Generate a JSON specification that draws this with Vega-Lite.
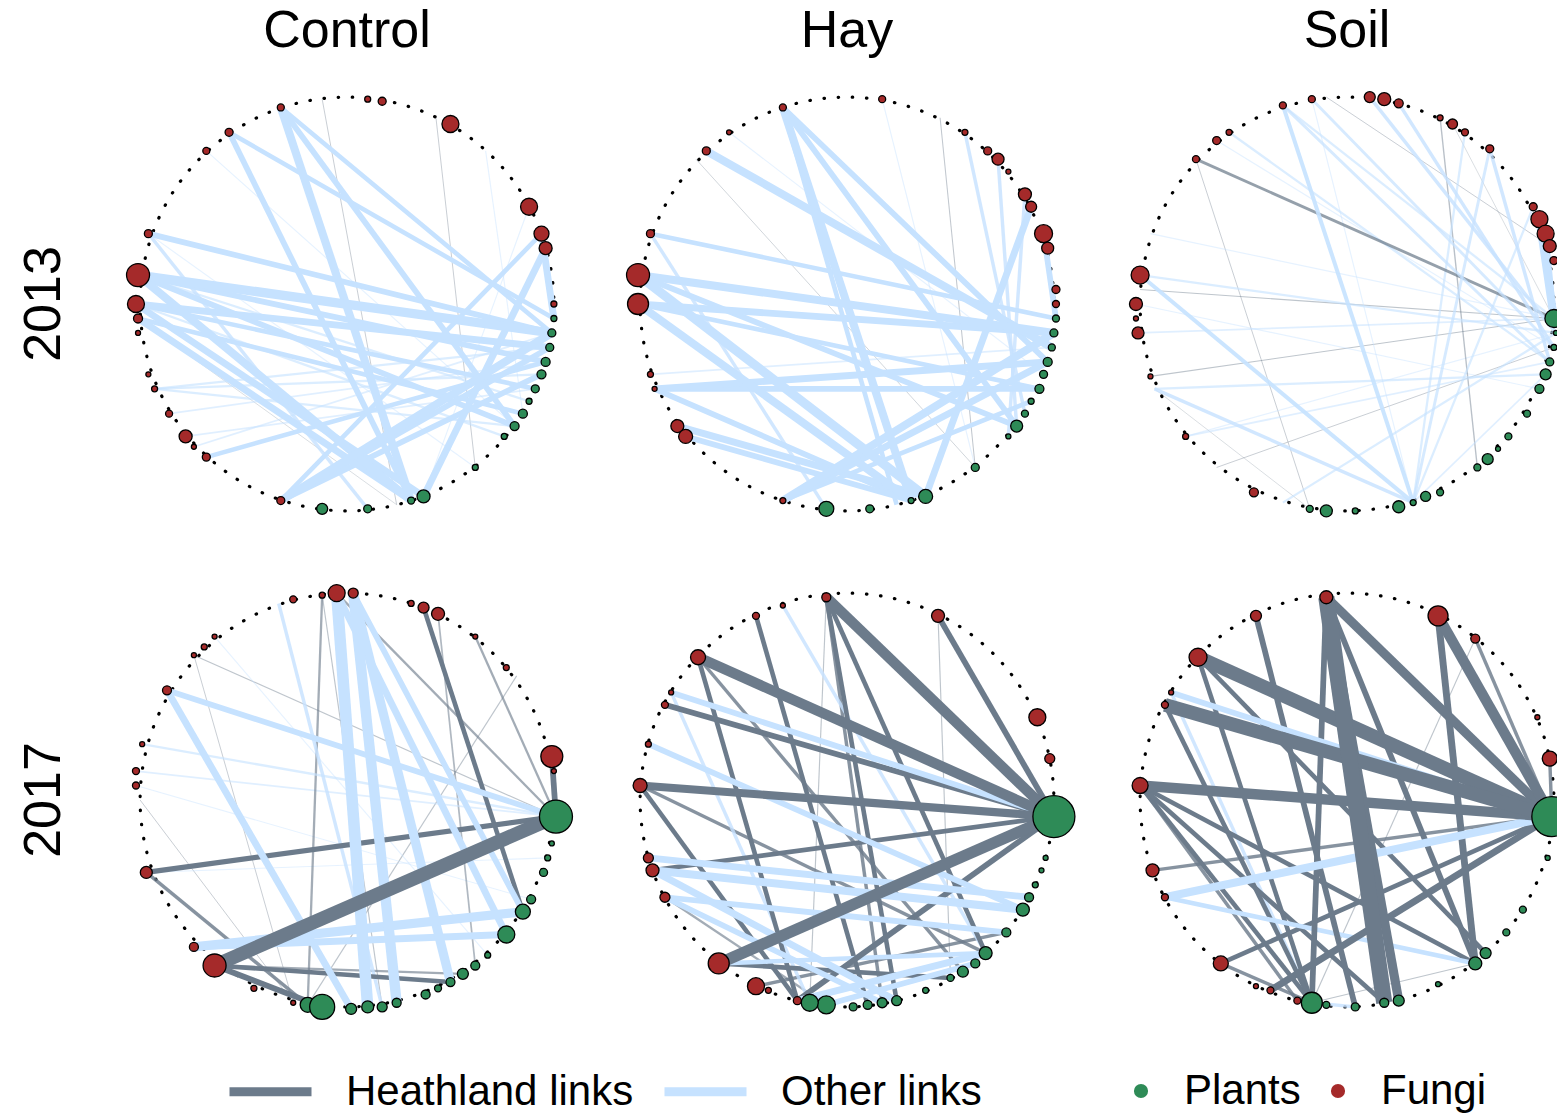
{
"$schema":"https://vega.github.io/schema/vega-lite/v6.json",
"padding":{"left":17,"top":5,"right":0,"bottom":0},
"datasets":{"all":[
{"k":"ring","c":"Control","r":"2013","x":0,"y":0},{"k":"ring","c":"Hay","r":"2013","x":0,"y":0},{"k":"ring","c":"Soil","r":"2013","x":0,"y":0},
{"k":"ring","c":"Control","r":"2017","x":0,"y":0},{"k":"ring","c":"Hay","r":"2017","x":0,"y":0},{"k":"ring","c":"Soil","r":"2017","x":0,"y":0},
{"k":"n","c":"Control","r":"2013","id":"a1","g":"Fungi","x":-0.32,"y":0.95,"d":7},
{"k":"n","c":"Control","r":"2013","id":"a2","g":"Fungi","x":-0.57,"y":0.83,"d":8},
{"k":"n","c":"Control","r":"2013","id":"a3","g":"Fungi","x":-0.68,"y":0.74,"d":7},
{"k":"n","c":"Control","r":"2013","id":"a4","g":"Fungi","x":0.10,"y":0.99,"d":6},
{"k":"n","c":"Control","r":"2013","id":"a5","g":"Fungi","x":0.17,"y":0.98,"d":8},
{"k":"n","c":"Control","r":"2013","id":"a6","g":"Fungi","x":0.50,"y":0.87,"d":17},
{"k":"n","c":"Control","r":"2013","id":"a7","g":"Fungi","x":0.88,"y":0.47,"d":17},
{"k":"n","c":"Control","r":"2013","id":"a8","g":"Fungi","x":0.94,"y":0.34,"d":15},
{"k":"n","c":"Control","r":"2013","id":"a9","g":"Fungi","x":0.96,"y":0.27,"d":13},
{"k":"n","c":"Control","r":"2013","id":"a10","g":"Fungi","x":1.0,"y":0.0,"d":6},
{"k":"n","c":"Control","r":"2013","id":"a11","g":"Fungi","x":-0.96,"y":0.34,"d":8},
{"k":"n","c":"Control","r":"2013","id":"a12","g":"Fungi","x":-1.01,"y":0.14,"d":23},
{"k":"n","c":"Control","r":"2013","id":"a13","g":"Fungi","x":-1.02,"y":0.0,"d":17},
{"k":"n","c":"Control","r":"2013","id":"a14","g":"Fungi","x":-1.01,"y":-0.07,"d":9},
{"k":"n","c":"Control","r":"2013","id":"a15","g":"Fungi","x":-1.01,"y":-0.14,"d":5},
{"k":"n","c":"Control","r":"2013","id":"a16","g":"Fungi","x":-0.96,"y":-0.34,"d":5},
{"k":"n","c":"Control","r":"2013","id":"a17","g":"Fungi","x":-0.93,"y":-0.41,"d":6},
{"k":"n","c":"Control","r":"2013","id":"a18","g":"Fungi","x":-0.86,"y":-0.53,"d":7},
{"k":"n","c":"Control","r":"2013","id":"a19","g":"Fungi","x":-0.78,"y":-0.64,"d":13},
{"k":"n","c":"Control","r":"2013","id":"a20","g":"Fungi","x":-0.74,"y":-0.69,"d":5},
{"k":"n","c":"Control","r":"2013","id":"a21","g":"Fungi","x":-0.68,"y":-0.74,"d":8},
{"k":"n","c":"Control","r":"2013","id":"a22","g":"Fungi","x":-0.32,"y":-0.95,"d":8},
{"k":"n","c":"Control","r":"2013","id":"a23","g":"Plants","x":1.0,"y":-0.07,"d":6},
{"k":"n","c":"Control","r":"2013","id":"a24","g":"Plants","x":0.99,"y":-0.14,"d":8},
{"k":"n","c":"Control","r":"2013","id":"a25","g":"Plants","x":0.98,"y":-0.21,"d":8},
{"k":"n","c":"Control","r":"2013","id":"a26","g":"Plants","x":0.96,"y":-0.28,"d":9},
{"k":"n","c":"Control","r":"2013","id":"a27","g":"Plants","x":0.94,"y":-0.34,"d":9},
{"k":"n","c":"Control","r":"2013","id":"a28","g":"Plants","x":0.91,"y":-0.41,"d":8},
{"k":"n","c":"Control","r":"2013","id":"a29","g":"Plants","x":0.88,"y":-0.47,"d":6},
{"k":"n","c":"Control","r":"2013","id":"a30","g":"Plants","x":0.85,"y":-0.53,"d":9},
{"k":"n","c":"Control","r":"2013","id":"a31","g":"Plants","x":0.81,"y":-0.59,"d":9},
{"k":"n","c":"Control","r":"2013","id":"a32","g":"Plants","x":0.76,"y":-0.64,"d":6},
{"k":"n","c":"Control","r":"2013","id":"a33","g":"Plants","x":0.62,"y":-0.79,"d":6},
{"k":"n","c":"Control","r":"2013","id":"a34","g":"Plants","x":0.37,"y":-0.93,"d":13},
{"k":"n","c":"Control","r":"2013","id":"a35","g":"Plants","x":0.31,"y":-0.95,"d":7},
{"k":"n","c":"Control","r":"2013","id":"a36","g":"Plants","x":0.10,"y":-0.99,"d":8},
{"k":"n","c":"Control","r":"2013","id":"a37","g":"Plants","x":-0.12,"y":-0.99,"d":11},
{"k":"n","c":"Control","r":"2013","id":"a38","g":"dot","x":-0.12,"y":0.99,"d":3},
{"k":"n","c":"Control","r":"2013","id":"a39","g":"dot","x":0.24,"y":-0.97,"d":3},
{"k":"n","c":"Control","r":"2013","id":"a40","g":"dot","x":0.43,"y":0.90,"d":3},
{"k":"n","c":"Control","r":"2013","id":"a42","g":"dot","x":0.67,"y":0.74,"d":3},
{"k":"n","c":"Hay","r":"2013","id":"b1","g":"Fungi","x":-0.31,"y":0.95,"d":7},
{"k":"n","c":"Hay","r":"2013","id":"b2","g":"Fungi","x":-0.68,"y":0.74,"d":8},
{"k":"n","c":"Hay","r":"2013","id":"b3","g":"Fungi","x":-0.57,"y":0.83,"d":5},
{"k":"n","c":"Hay","r":"2013","id":"b4","g":"Fungi","x":0.17,"y":0.99,"d":7},
{"k":"n","c":"Hay","r":"2013","id":"b5","g":"Fungi","x":0.57,"y":0.83,"d":6},
{"k":"n","c":"Hay","r":"2013","id":"b6","g":"Fungi","x":0.68,"y":0.74,"d":8},
{"k":"n","c":"Hay","r":"2013","id":"b7","g":"Fungi","x":0.73,"y":0.70,"d":12},
{"k":"n","c":"Hay","r":"2013","id":"b8","g":"Fungi","x":0.78,"y":0.64,"d":5},
{"k":"n","c":"Hay","r":"2013","id":"b9","g":"Fungi","x":0.86,"y":0.53,"d":13},
{"k":"n","c":"Hay","r":"2013","id":"b10","g":"Fungi","x":0.89,"y":0.47,"d":11},
{"k":"n","c":"Hay","r":"2013","id":"b11","g":"Fungi","x":0.95,"y":0.34,"d":18},
{"k":"n","c":"Hay","r":"2013","id":"b12","g":"Fungi","x":0.97,"y":0.27,"d":12},
{"k":"n","c":"Hay","r":"2013","id":"b13","g":"Fungi","x":1.01,"y":0.07,"d":8},
{"k":"n","c":"Hay","r":"2013","id":"b14","g":"Fungi","x":1.01,"y":0.0,"d":7},
{"k":"n","c":"Hay","r":"2013","id":"b15","g":"Fungi","x":-0.95,"y":0.34,"d":8},
{"k":"n","c":"Hay","r":"2013","id":"b16","g":"Fungi","x":-1.01,"y":0.14,"d":23},
{"k":"n","c":"Hay","r":"2013","id":"b17","g":"Fungi","x":-1.01,"y":0.0,"d":21},
{"k":"n","c":"Hay","r":"2013","id":"b18","g":"Fungi","x":-0.95,"y":-0.34,"d":6},
{"k":"n","c":"Hay","r":"2013","id":"b19","g":"Fungi","x":-0.93,"y":-0.41,"d":5},
{"k":"n","c":"Hay","r":"2013","id":"b20","g":"Fungi","x":-0.82,"y":-0.59,"d":13},
{"k":"n","c":"Hay","r":"2013","id":"b21","g":"Fungi","x":-0.78,"y":-0.64,"d":14},
{"k":"n","c":"Hay","r":"2013","id":"b22","g":"Fungi","x":-0.31,"y":-0.95,"d":6},
{"k":"n","c":"Hay","r":"2013","id":"b23","g":"Plants","x":1.01,"y":-0.07,"d":7},
{"k":"n","c":"Hay","r":"2013","id":"b24","g":"Plants","x":1.0,"y":-0.14,"d":8},
{"k":"n","c":"Hay","r":"2013","id":"b25","g":"Plants","x":0.99,"y":-0.21,"d":7},
{"k":"n","c":"Hay","r":"2013","id":"b26","g":"Plants","x":0.97,"y":-0.28,"d":9},
{"k":"n","c":"Hay","r":"2013","id":"b27","g":"Plants","x":0.95,"y":-0.34,"d":8},
{"k":"n","c":"Hay","r":"2013","id":"b28","g":"Plants","x":0.93,"y":-0.41,"d":9},
{"k":"n","c":"Hay","r":"2013","id":"b29","g":"Plants","x":0.89,"y":-0.47,"d":6},
{"k":"n","c":"Hay","r":"2013","id":"b30","g":"Plants","x":0.86,"y":-0.53,"d":7},
{"k":"n","c":"Hay","r":"2013","id":"b31","g":"Plants","x":0.82,"y":-0.59,"d":12},
{"k":"n","c":"Hay","r":"2013","id":"b32","g":"Plants","x":0.78,"y":-0.64,"d":5},
{"k":"n","c":"Hay","r":"2013","id":"b33","g":"Plants","x":0.62,"y":-0.79,"d":8},
{"k":"n","c":"Hay","r":"2013","id":"b34","g":"Plants","x":0.38,"y":-0.93,"d":14},
{"k":"n","c":"Hay","r":"2013","id":"b35","g":"Plants","x":0.31,"y":-0.95,"d":6},
{"k":"n","c":"Hay","r":"2013","id":"b36","g":"Plants","x":0.11,"y":-0.99,"d":8},
{"k":"n","c":"Hay","r":"2013","id":"b37","g":"Plants","x":-0.10,"y":-0.99,"d":15},
{"k":"n","c":"Hay","r":"2013","id":"b38","g":"dot","x":0.24,"y":-0.97,"d":3},
{"k":"n","c":"Hay","r":"2013","id":"b39","g":"dot","x":-0.73,"y":0.70,"d":3},
{"k":"n","c":"Hay","r":"2013","id":"b40","g":"dot","x":0.45,"y":0.90,"d":3},
{"k":"n","c":"Soil","r":"2013","id":"c1","g":"Fungi","x":-0.31,"y":0.96,"d":7},
{"k":"n","c":"Soil","r":"2013","id":"c2","g":"Fungi","x":-0.17,"y":0.99,"d":7},
{"k":"n","c":"Soil","r":"2013","id":"c3","g":"Fungi","x":0.11,"y":1.0,"d":11},
{"k":"n","c":"Soil","r":"2013","id":"c4","g":"Fungi","x":0.18,"y":0.99,"d":13},
{"k":"n","c":"Soil","r":"2013","id":"c5","g":"Fungi","x":0.25,"y":0.97,"d":9},
{"k":"n","c":"Soil","r":"2013","id":"c6","g":"Fungi","x":0.45,"y":0.90,"d":6},
{"k":"n","c":"Soil","r":"2013","id":"c7","g":"Fungi","x":0.51,"y":0.87,"d":10},
{"k":"n","c":"Soil","r":"2013","id":"c8","g":"Fungi","x":0.57,"y":0.83,"d":7},
{"k":"n","c":"Soil","r":"2013","id":"c9","g":"Fungi","x":0.69,"y":0.75,"d":8},
{"k":"n","c":"Soil","r":"2013","id":"c10","g":"Fungi","x":0.90,"y":0.47,"d":8},
{"k":"n","c":"Soil","r":"2013","id":"c11","g":"Fungi","x":0.93,"y":0.41,"d":17},
{"k":"n","c":"Soil","r":"2013","id":"c12","g":"Fungi","x":0.96,"y":0.34,"d":17},
{"k":"n","c":"Soil","r":"2013","id":"c13","g":"Fungi","x":0.98,"y":0.28,"d":13},
{"k":"n","c":"Soil","r":"2013","id":"c14","g":"Fungi","x":1.0,"y":0.21,"d":8},
{"k":"n","c":"Soil","r":"2013","id":"c15","g":"Fungi","x":-0.57,"y":0.83,"d":6},
{"k":"n","c":"Soil","r":"2013","id":"c16","g":"Fungi","x":-0.63,"y":0.79,"d":8},
{"k":"n","c":"Soil","r":"2013","id":"c17","g":"Fungi","x":-0.73,"y":0.70,"d":7},
{"k":"n","c":"Soil","r":"2013","id":"c18","g":"Fungi","x":-1.0,"y":0.14,"d":18},
{"k":"n","c":"Soil","r":"2013","id":"c19","g":"Fungi","x":-1.02,"y":0.0,"d":13},
{"k":"n","c":"Soil","r":"2013","id":"c20","g":"Fungi","x":-1.02,"y":-0.07,"d":5},
{"k":"n","c":"Soil","r":"2013","id":"c21","g":"Fungi","x":-1.01,"y":-0.14,"d":12},
{"k":"n","c":"Soil","r":"2013","id":"c22","g":"Fungi","x":-0.95,"y":-0.35,"d":5},
{"k":"n","c":"Soil","r":"2013","id":"c23","g":"Fungi","x":-0.78,"y":-0.64,"d":6},
{"k":"n","c":"Soil","r":"2013","id":"c24","g":"Fungi","x":-0.45,"y":-0.91,"d":9},
{"k":"n","c":"Soil","r":"2013","id":"c25","g":"Plants","x":1.0,"y":-0.07,"d":18},
{"k":"n","c":"Soil","r":"2013","id":"c26","g":"Plants","x":1.01,"y":-0.14,"d":5},
{"k":"n","c":"Soil","r":"2013","id":"c27","g":"Plants","x":1.0,"y":-0.21,"d":6},
{"k":"n","c":"Soil","r":"2013","id":"c28","g":"Plants","x":0.98,"y":-0.28,"d":8},
{"k":"n","c":"Soil","r":"2013","id":"c29","g":"Plants","x":0.96,"y":-0.34,"d":11},
{"k":"n","c":"Soil","r":"2013","id":"c30","g":"Plants","x":0.93,"y":-0.41,"d":9},
{"k":"n","c":"Soil","r":"2013","id":"c31","g":"Plants","x":0.87,"y":-0.53,"d":7},
{"k":"n","c":"Soil","r":"2013","id":"c32","g":"Plants","x":0.78,"y":-0.64,"d":7},
{"k":"n","c":"Soil","r":"2013","id":"c33","g":"Plants","x":0.73,"y":-0.70,"d":5},
{"k":"n","c":"Soil","r":"2013","id":"c34","g":"Plants","x":0.68,"y":-0.75,"d":11},
{"k":"n","c":"Soil","r":"2013","id":"c35","g":"Plants","x":0.63,"y":-0.79,"d":7},
{"k":"n","c":"Soil","r":"2013","id":"c36","g":"Plants","x":0.45,"y":-0.91,"d":7},
{"k":"n","c":"Soil","r":"2013","id":"c37","g":"Plants","x":0.38,"y":-0.93,"d":10},
{"k":"n","c":"Soil","r":"2013","id":"c38","g":"Plants","x":0.32,"y":-0.96,"d":6},
{"k":"n","c":"Soil","r":"2013","id":"c39","g":"Plants","x":0.25,"y":-0.98,"d":12},
{"k":"n","c":"Soil","r":"2013","id":"c40","g":"Plants","x":0.04,"y":-1.0,"d":6},
{"k":"n","c":"Soil","r":"2013","id":"c41","g":"Plants","x":-0.10,"y":-1.0,"d":12},
{"k":"n","c":"Soil","r":"2013","id":"c42","g":"Plants","x":-0.18,"y":-0.99,"d":7},
{"k":"n","c":"Soil","r":"2013","id":"c43","g":"dot","x":-0.93,"y":-0.41,"d":3},
{"k":"n","c":"Soil","r":"2013","id":"c44","g":"dot","x":-0.63,"y":-0.79,"d":3},
{"k":"n","c":"Soil","r":"2013","id":"c45","g":"dot","x":-1.0,"y":0.07,"d":3},
{"k":"n","c":"Soil","r":"2013","id":"c46","g":"dot","x":-0.10,"y":1.0,"d":3},
{"k":"n","c":"Soil","r":"2013","id":"c47","g":"dot","x":-0.31,"y":-0.96,"d":3},
{"k":"n","c":"Soil","r":"2013","id":"c48","g":"dot","x":-0.95,"y":0.34,"d":3},
{"k":"n","c":"Control","r":"2017","id":"d1","g":"Fungi","x":-0.05,"y":1.0,"d":17},
{"k":"n","c":"Control","r":"2017","id":"d2","g":"Fungi","x":0.03,"y":1.0,"d":10},
{"k":"n","c":"Control","r":"2017","id":"d3","g":"Fungi","x":-0.12,"y":0.99,"d":6},
{"k":"n","c":"Control","r":"2017","id":"d4","g":"Fungi","x":-0.26,"y":0.97,"d":7},
{"k":"n","c":"Control","r":"2017","id":"d5","g":"Fungi","x":0.31,"y":0.95,"d":6},
{"k":"n","c":"Control","r":"2017","id":"d6","g":"Fungi","x":0.37,"y":0.93,"d":11},
{"k":"n","c":"Control","r":"2017","id":"d7","g":"Fungi","x":0.44,"y":0.90,"d":13},
{"k":"n","c":"Control","r":"2017","id":"d8","g":"Fungi","x":0.62,"y":0.79,"d":5},
{"k":"n","c":"Control","r":"2017","id":"d9","g":"Fungi","x":0.77,"y":0.64,"d":6},
{"k":"n","c":"Control","r":"2017","id":"d10","g":"Fungi","x":-0.64,"y":0.79,"d":5},
{"k":"n","c":"Control","r":"2017","id":"d11","g":"Fungi","x":-0.69,"y":0.74,"d":6},
{"k":"n","c":"Control","r":"2017","id":"d12","g":"Fungi","x":-0.74,"y":0.70,"d":5},
{"k":"n","c":"Control","r":"2017","id":"d13","g":"Fungi","x":-0.87,"y":0.53,"d":9},
{"k":"n","c":"Control","r":"2017","id":"d14","g":"Fungi","x":-0.99,"y":0.27,"d":5},
{"k":"n","c":"Control","r":"2017","id":"d15","g":"Fungi","x":-1.02,"y":0.14,"d":7},
{"k":"n","c":"Control","r":"2017","id":"d16","g":"Fungi","x":-1.02,"y":0.07,"d":7},
{"k":"n","c":"Control","r":"2017","id":"d17","g":"Fungi","x":-0.97,"y":-0.35,"d":12},
{"k":"n","c":"Control","r":"2017","id":"d18","g":"Fungi","x":-0.74,"y":-0.71,"d":9},
{"k":"n","c":"Control","r":"2017","id":"d19","g":"Fungi","x":-0.64,"y":-0.80,"d":23},
{"k":"n","c":"Control","r":"2017","id":"d20","g":"Fungi","x":-0.45,"y":-0.91,"d":6},
{"k":"n","c":"Control","r":"2017","id":"d21","g":"Fungi","x":-0.26,"y":-0.98,"d":5},
{"k":"n","c":"Control","r":"2017","id":"d22","g":"Fungi","x":0.99,"y":0.21,"d":22},
{"k":"n","c":"Control","r":"2017","id":"d23","g":"Fungi","x":1.0,"y":0.14,"d":5},
{"k":"n","c":"Control","r":"2017","id":"d24","g":"Plants","x":1.01,"y":-0.08,"d":33},
{"k":"n","c":"Control","r":"2017","id":"d25","g":"Plants","x":0.99,"y":-0.21,"d":5},
{"k":"n","c":"Control","r":"2017","id":"d26","g":"Plants","x":0.97,"y":-0.28,"d":6},
{"k":"n","c":"Control","r":"2017","id":"d27","g":"Plants","x":0.95,"y":-0.35,"d":8},
{"k":"n","c":"Control","r":"2017","id":"d28","g":"Plants","x":0.89,"y":-0.48,"d":9},
{"k":"n","c":"Control","r":"2017","id":"d29","g":"Plants","x":0.85,"y":-0.54,"d":15},
{"k":"n","c":"Control","r":"2017","id":"d30","g":"Plants","x":0.77,"y":-0.65,"d":17},
{"k":"n","c":"Control","r":"2017","id":"d31","g":"Plants","x":0.68,"y":-0.75,"d":6},
{"k":"n","c":"Control","r":"2017","id":"d32","g":"Plants","x":0.62,"y":-0.80,"d":9},
{"k":"n","c":"Control","r":"2017","id":"d33","g":"Plants","x":0.56,"y":-0.84,"d":11},
{"k":"n","c":"Control","r":"2017","id":"d34","g":"Plants","x":0.50,"y":-0.88,"d":9},
{"k":"n","c":"Control","r":"2017","id":"d35","g":"Plants","x":0.44,"y":-0.91,"d":7},
{"k":"n","c":"Control","r":"2017","id":"d36","g":"Plants","x":0.38,"y":-0.94,"d":9},
{"k":"n","c":"Control","r":"2017","id":"d37","g":"Plants","x":0.24,"y":-0.98,"d":9},
{"k":"n","c":"Control","r":"2017","id":"d38","g":"Plants","x":0.17,"y":-1.0,"d":10},
{"k":"n","c":"Control","r":"2017","id":"d39","g":"Plants","x":0.10,"y":-1.0,"d":12},
{"k":"n","c":"Control","r":"2017","id":"d40","g":"Plants","x":0.02,"y":-1.01,"d":11},
{"k":"n","c":"Control","r":"2017","id":"d41","g":"Plants","x":-0.19,"y":-0.99,"d":15},
{"k":"n","c":"Control","r":"2017","id":"d42","g":"Plants","x":-0.12,"y":-1.0,"d":25},
{"k":"n","c":"Control","r":"2017","id":"d43","g":"dot","x":0.82,"y":0.60,"d":3},
{"k":"n","c":"Control","r":"2017","id":"d45","g":"dot","x":-0.33,"y":0.95,"d":3},
{"k":"n","c":"Control","r":"2017","id":"d46","g":"dot","x":-1.0,"y":0.0,"d":3},
{"k":"n","c":"Hay","r":"2017","id":"e1","g":"Fungi","x":-0.10,"y":0.98,"d":9},
{"k":"n","c":"Hay","r":"2017","id":"e2","g":"Fungi","x":-0.31,"y":0.94,"d":5},
{"k":"n","c":"Hay","r":"2017","id":"e3","g":"Fungi","x":-0.44,"y":0.89,"d":7},
{"k":"n","c":"Hay","r":"2017","id":"e4","g":"Fungi","x":0.44,"y":0.89,"d":13},
{"k":"n","c":"Hay","r":"2017","id":"e5","g":"Fungi","x":-0.72,"y":0.69,"d":15},
{"k":"n","c":"Hay","r":"2017","id":"e6","g":"Fungi","x":-0.85,"y":0.52,"d":5},
{"k":"n","c":"Hay","r":"2017","id":"e7","g":"Fungi","x":-0.88,"y":0.46,"d":7},
{"k":"n","c":"Hay","r":"2017","id":"e8","g":"Fungi","x":-0.96,"y":0.27,"d":6},
{"k":"n","c":"Hay","r":"2017","id":"e9","g":"Fungi","x":-1.0,"y":0.07,"d":14},
{"k":"n","c":"Hay","r":"2017","id":"e10","g":"Fungi","x":-0.96,"y":-0.28,"d":10},
{"k":"n","c":"Hay","r":"2017","id":"e11","g":"Fungi","x":-0.94,"y":-0.34,"d":13},
{"k":"n","c":"Hay","r":"2017","id":"e12","g":"Fungi","x":-0.88,"y":-0.47,"d":10},
{"k":"n","c":"Hay","r":"2017","id":"e13","g":"Fungi","x":-0.62,"y":-0.79,"d":21},
{"k":"n","c":"Hay","r":"2017","id":"e14","g":"Fungi","x":-0.44,"y":-0.90,"d":17},
{"k":"n","c":"Hay","r":"2017","id":"e15","g":"Fungi","x":-0.38,"y":-0.92,"d":6},
{"k":"n","c":"Hay","r":"2017","id":"e16","g":"Fungi","x":-0.24,"y":-0.97,"d":8},
{"k":"n","c":"Hay","r":"2017","id":"e17","g":"Fungi","x":0.92,"y":0.40,"d":17},
{"k":"n","c":"Hay","r":"2017","id":"e18","g":"Fungi","x":0.98,"y":0.20,"d":10},
{"k":"n","c":"Hay","r":"2017","id":"e19","g":"Plants","x":1.0,"y":-0.08,"d":42},
{"k":"n","c":"Hay","r":"2017","id":"e20","g":"Plants","x":0.96,"y":-0.28,"d":5},
{"k":"n","c":"Hay","r":"2017","id":"e21","g":"Plants","x":0.94,"y":-0.34,"d":5},
{"k":"n","c":"Hay","r":"2017","id":"e22","g":"Plants","x":0.91,"y":-0.41,"d":6},
{"k":"n","c":"Hay","r":"2017","id":"e23","g":"Plants","x":0.88,"y":-0.47,"d":9},
{"k":"n","c":"Hay","r":"2017","id":"e24","g":"Plants","x":0.85,"y":-0.53,"d":13},
{"k":"n","c":"Hay","r":"2017","id":"e25","g":"Plants","x":0.77,"y":-0.64,"d":9},
{"k":"n","c":"Hay","r":"2017","id":"e26","g":"Plants","x":0.67,"y":-0.74,"d":13},
{"k":"n","c":"Hay","r":"2017","id":"e27","g":"Plants","x":0.62,"y":-0.79,"d":9},
{"k":"n","c":"Hay","r":"2017","id":"e28","g":"Plants","x":0.56,"y":-0.83,"d":11},
{"k":"n","c":"Hay","r":"2017","id":"e29","g":"Plants","x":0.50,"y":-0.86,"d":7},
{"k":"n","c":"Hay","r":"2017","id":"e30","g":"Plants","x":0.38,"y":-0.92,"d":6},
{"k":"n","c":"Hay","r":"2017","id":"e31","g":"Plants","x":0.24,"y":-0.97,"d":10},
{"k":"n","c":"Hay","r":"2017","id":"e32","g":"Plants","x":0.17,"y":-0.98,"d":10},
{"k":"n","c":"Hay","r":"2017","id":"e33","g":"Plants","x":0.10,"y":-0.99,"d":9},
{"k":"n","c":"Hay","r":"2017","id":"e34","g":"Plants","x":0.03,"y":-1.0,"d":8},
{"k":"n","c":"Hay","r":"2017","id":"e35","g":"Plants","x":-0.10,"y":-0.99,"d":18},
{"k":"n","c":"Hay","r":"2017","id":"e36","g":"Plants","x":-0.18,"y":-0.98,"d":17},
{"k":"n","c":"Soil","r":"2017","id":"f1","g":"Fungi","x":-0.10,"y":0.98,"d":13},
{"k":"n","c":"Soil","r":"2017","id":"f2","g":"Fungi","x":-0.44,"y":0.89,"d":11},
{"k":"n","c":"Soil","r":"2017","id":"f3","g":"Fungi","x":0.44,"y":0.89,"d":20},
{"k":"n","c":"Soil","r":"2017","id":"f4","g":"Fungi","x":0.62,"y":0.78,"d":9},
{"k":"n","c":"Soil","r":"2017","id":"f5","g":"Fungi","x":-0.72,"y":0.69,"d":18},
{"k":"n","c":"Soil","r":"2017","id":"f6","g":"Fungi","x":-0.85,"y":0.52,"d":5},
{"k":"n","c":"Soil","r":"2017","id":"f7","g":"Fungi","x":-0.88,"y":0.46,"d":7},
{"k":"n","c":"Soil","r":"2017","id":"f8","g":"Fungi","x":-1.0,"y":0.07,"d":16},
{"k":"n","c":"Soil","r":"2017","id":"f9","g":"Fungi","x":-0.94,"y":-0.34,"d":13},
{"k":"n","c":"Soil","r":"2017","id":"f10","g":"Fungi","x":-0.88,"y":-0.47,"d":7},
{"k":"n","c":"Soil","r":"2017","id":"f11","g":"Fungi","x":-0.61,"y":-0.79,"d":15},
{"k":"n","c":"Soil","r":"2017","id":"f12","g":"Fungi","x":-0.44,"y":-0.90,"d":5},
{"k":"n","c":"Soil","r":"2017","id":"f13","g":"Fungi","x":-0.37,"y":-0.92,"d":7},
{"k":"n","c":"Soil","r":"2017","id":"f14","g":"Fungi","x":-0.24,"y":-0.97,"d":7},
{"k":"n","c":"Soil","r":"2017","id":"f15","g":"Fungi","x":0.92,"y":0.40,"d":5},
{"k":"n","c":"Soil","r":"2017","id":"f16","g":"Fungi","x":0.98,"y":0.20,"d":15},
{"k":"n","c":"Soil","r":"2017","id":"f17","g":"Plants","x":0.99,"y":-0.08,"d":40},
{"k":"n","c":"Soil","r":"2017","id":"f18","g":"Plants","x":0.97,"y":-0.28,"d":5},
{"k":"n","c":"Soil","r":"2017","id":"f19","g":"Plants","x":0.85,"y":-0.53,"d":7},
{"k":"n","c":"Soil","r":"2017","id":"f20","g":"Plants","x":0.77,"y":-0.64,"d":7},
{"k":"n","c":"Soil","r":"2017","id":"f21","g":"Plants","x":0.67,"y":-0.74,"d":11},
{"k":"n","c":"Soil","r":"2017","id":"f22","g":"Plants","x":0.62,"y":-0.79,"d":13},
{"k":"n","c":"Soil","r":"2017","id":"f23","g":"Plants","x":0.44,"y":-0.89,"d":5},
{"k":"n","c":"Soil","r":"2017","id":"f24","g":"Plants","x":0.25,"y":-0.97,"d":11},
{"k":"n","c":"Soil","r":"2017","id":"f25","g":"Plants","x":0.18,"y":-0.98,"d":9},
{"k":"n","c":"Soil","r":"2017","id":"f26","g":"Plants","x":0.04,"y":-1.0,"d":8},
{"k":"n","c":"Soil","r":"2017","id":"f27","g":"Plants","x":-0.10,"y":-0.99,"d":7},
{"k":"n","c":"Soil","r":"2017","id":"f28","g":"Plants","x":-0.17,"y":-0.98,"d":21},
{"k":"e","c":"Control","r":"2013","f":"a1","t":"a35","l":"Other links","w":7},
{"k":"e","c":"Control","r":"2013","f":"a1","t":"a24","l":"Other links","w":4},
{"k":"e","c":"Control","r":"2013","f":"a1","t":"a31","l":"Other links","w":5},
{"k":"e","c":"Control","r":"2013","f":"a2","t":"a35","l":"Other links","w":5},
{"k":"e","c":"Control","r":"2013","f":"a2","t":"a23","l":"Other links","w":4},
{"k":"e","c":"Control","r":"2013","f":"a12","t":"a24","l":"Other links","w":8},
{"k":"e","c":"Control","r":"2013","f":"a12","t":"a26","l":"Other links","w":5},
{"k":"e","c":"Control","r":"2013","f":"a12","t":"a35","l":"Other links","w":7},
{"k":"e","c":"Control","r":"2013","f":"a12","t":"a31","l":"Other links","w":5},
{"k":"e","c":"Control","r":"2013","f":"a13","t":"a25","l":"Other links","w":6},
{"k":"e","c":"Control","r":"2013","f":"a13","t":"a34","l":"Other links","w":6},
{"k":"e","c":"Control","r":"2013","f":"a13","t":"a28","l":"Other links","w":4},
{"k":"e","c":"Control","r":"2013","f":"a14","t":"a35","l":"Other links","w":6},
{"k":"e","c":"Control","r":"2013","f":"a14","t":"a30","l":"Other links","w":4},
{"k":"e","c":"Control","r":"2013","f":"a11","t":"a24","l":"Other links","w":5},
{"k":"e","c":"Control","r":"2013","f":"a11","t":"a36","l":"Other links","w":3},
{"k":"e","c":"Control","r":"2013","f":"a9","t":"a34","l":"Other links","w":6},
{"k":"e","c":"Control","r":"2013","f":"a8","t":"a23","l":"Other links","w":6},
{"k":"e","c":"Control","r":"2013","f":"a22","t":"a24","l":"Other links","w":7},
{"k":"e","c":"Control","r":"2013","f":"a22","t":"a25","l":"Other links","w":5},
{"k":"e","c":"Control","r":"2013","f":"a22","t":"a27","l":"Other links","w":5},
{"k":"e","c":"Control","r":"2013","f":"a22","t":"a8","l":"Other links","w":4},
{"k":"e","c":"Control","r":"2013","f":"a21","t":"a26","l":"Other links","w":4},
{"k":"e","c":"Control","r":"2013","f":"a17","t":"a25","l":"Other links","w":2},
{"k":"e","c":"Control","r":"2013","f":"a17","t":"a27","l":"Other links","w":2},
{"k":"e","c":"Control","r":"2013","f":"a17","t":"a31","l":"Other links","w":2},
{"k":"e","c":"Control","r":"2013","f":"a19","t":"a28","l":"Other links","w":1.5},
{"k":"e","c":"Control","r":"2013","f":"a3","t":"a31","l":"Other links","w":1},
{"k":"e","c":"Control","r":"2013","f":"a7","t":"a34","l":"Other links","w":1},
{"k":"e","c":"Control","r":"2013","f":"a42","t":"a30","l":"Other links","w":1},
{"k":"e","c":"Control","r":"2013","f":"a12","t":"a29","l":"Other links","w":2},
{"k":"e","c":"Control","r":"2013","f":"a13","t":"a32","l":"Other links","w":2},
{"k":"e","c":"Control","r":"2013","f":"a11","t":"a33","l":"Other links","w":1},
{"k":"e","c":"Control","r":"2013","f":"a18","t":"a26","l":"Other links","w":1.5},
{"k":"e","c":"Control","r":"2013","f":"a20","t":"a24","l":"Other links","w":1.5},
{"k":"e","c":"Control","r":"2013","f":"a38","t":"a39","l":"Heathland links","w":0.8},
{"k":"e","c":"Control","r":"2013","f":"a40","t":"a33","l":"Heathland links","w":0.8},
{"k":"e","c":"Control","r":"2013","f":"a14","t":"a39","l":"Heathland links","w":0.6},
{"k":"e","c":"Hay","r":"2013","f":"b1","t":"b35","l":"Other links","w":7},
{"k":"e","c":"Hay","r":"2013","f":"b1","t":"b26","l":"Other links","w":5},
{"k":"e","c":"Hay","r":"2013","f":"b1","t":"b31","l":"Other links","w":5},
{"k":"e","c":"Hay","r":"2013","f":"b1","t":"b38","l":"Other links","w":4},
{"k":"e","c":"Hay","r":"2013","f":"b2","t":"b25","l":"Other links","w":7},
{"k":"e","c":"Hay","r":"2013","f":"b16","t":"b24","l":"Other links","w":7},
{"k":"e","c":"Hay","r":"2013","f":"b16","t":"b34","l":"Other links","w":8},
{"k":"e","c":"Hay","r":"2013","f":"b16","t":"b31","l":"Other links","w":5},
{"k":"e","c":"Hay","r":"2013","f":"b17","t":"b24","l":"Other links","w":6},
{"k":"e","c":"Hay","r":"2013","f":"b17","t":"b35","l":"Other links","w":7},
{"k":"e","c":"Hay","r":"2013","f":"b17","t":"b28","l":"Other links","w":4},
{"k":"e","c":"Hay","r":"2013","f":"b15","t":"b23","l":"Other links","w":4},
{"k":"e","c":"Hay","r":"2013","f":"b15","t":"b37","l":"Other links","w":3},
{"k":"e","c":"Hay","r":"2013","f":"b19","t":"b26","l":"Other links","w":6},
{"k":"e","c":"Hay","r":"2013","f":"b19","t":"b28","l":"Other links","w":5},
{"k":"e","c":"Hay","r":"2013","f":"b19","t":"b35","l":"Other links","w":5},
{"k":"e","c":"Hay","r":"2013","f":"b20","t":"b34","l":"Other links","w":6},
{"k":"e","c":"Hay","r":"2013","f":"b21","t":"b35","l":"Other links","w":5},
{"k":"e","c":"Hay","r":"2013","f":"b22","t":"b24","l":"Other links","w":7},
{"k":"e","c":"Hay","r":"2013","f":"b22","t":"b26","l":"Other links","w":6},
{"k":"e","c":"Hay","r":"2013","f":"b22","t":"b29","l":"Other links","w":4},
{"k":"e","c":"Hay","r":"2013","f":"b10","t":"b34","l":"Other links","w":6},
{"k":"e","c":"Hay","r":"2013","f":"b5","t":"b30","l":"Other links","w":3},
{"k":"e","c":"Hay","r":"2013","f":"b7","t":"b31","l":"Other links","w":3},
{"k":"e","c":"Hay","r":"2013","f":"b11","t":"b23","l":"Other links","w":5},
{"k":"e","c":"Hay","r":"2013","f":"b9","t":"b32","l":"Other links","w":3},
{"k":"e","c":"Hay","r":"2013","f":"b3","t":"b27","l":"Other links","w":1},
{"k":"e","c":"Hay","r":"2013","f":"b18","t":"b25","l":"Other links","w":1.5},
{"k":"e","c":"Hay","r":"2013","f":"b4","t":"b33","l":"Other links","w":1},
{"k":"e","c":"Hay","r":"2013","f":"b39","t":"b33","l":"Heathland links","w":0.7},
{"k":"e","c":"Hay","r":"2013","f":"b40","t":"b33","l":"Heathland links","w":0.9},
{"k":"e","c":"Soil","r":"2013","f":"c17","t":"c25","l":"Heathland links","w":2.5},
{"k":"e","c":"Soil","r":"2013","f":"c17","t":"c42","l":"Heathland links","w":0.8},
{"k":"e","c":"Soil","r":"2013","f":"c45","t":"c25","l":"Heathland links","w":1},
{"k":"e","c":"Soil","r":"2013","f":"c22","t":"c25","l":"Heathland links","w":1},
{"k":"e","c":"Soil","r":"2013","f":"c44","t":"c27","l":"Heathland links","w":0.8},
{"k":"e","c":"Soil","r":"2013","f":"c6","t":"c35","l":"Heathland links","w":1.2},
{"k":"e","c":"Soil","r":"2013","f":"c46","t":"c13","l":"Heathland links","w":0.8},
{"k":"e","c":"Soil","r":"2013","f":"c43","t":"c42","l":"Heathland links","w":0.6},
{"k":"e","c":"Soil","r":"2013","f":"c7","t":"c25","l":"Heathland links","w":0.6},
{"k":"e","c":"Soil","r":"2013","f":"c1","t":"c38","l":"Other links","w":3.5},
{"k":"e","c":"Soil","r":"2013","f":"c1","t":"c28","l":"Other links","w":2.5},
{"k":"e","c":"Soil","r":"2013","f":"c1","t":"c25","l":"Other links","w":2},
{"k":"e","c":"Soil","r":"2013","f":"c2","t":"c27","l":"Other links","w":2.5},
{"k":"e","c":"Soil","r":"2013","f":"c3","t":"c26","l":"Other links","w":3},
{"k":"e","c":"Soil","r":"2013","f":"c5","t":"c27","l":"Other links","w":3},
{"k":"e","c":"Soil","r":"2013","f":"c9","t":"c28","l":"Other links","w":3},
{"k":"e","c":"Soil","r":"2013","f":"c9","t":"c38","l":"Other links","w":2.5},
{"k":"e","c":"Soil","r":"2013","f":"c8","t":"c38","l":"Other links","w":2},
{"k":"e","c":"Soil","r":"2013","f":"c18","t":"c38","l":"Other links","w":3.5},
{"k":"e","c":"Soil","r":"2013","f":"c18","t":"c26","l":"Other links","w":2},
{"k":"e","c":"Soil","r":"2013","f":"c21","t":"c25","l":"Other links","w":1.5},
{"k":"e","c":"Soil","r":"2013","f":"c43","t":"c38","l":"Other links","w":3},
{"k":"e","c":"Soil","r":"2013","f":"c43","t":"c29","l":"Other links","w":2},
{"k":"e","c":"Soil","r":"2013","f":"c23","t":"c28","l":"Other links","w":1.5},
{"k":"e","c":"Soil","r":"2013","f":"c15","t":"c28","l":"Other links","w":2},
{"k":"e","c":"Soil","r":"2013","f":"c47","t":"c26","l":"Other links","w":2},
{"k":"e","c":"Soil","r":"2013","f":"c11","t":"c25","l":"Other links","w":7},
{"k":"e","c":"Soil","r":"2013","f":"c12","t":"c25","l":"Other links","w":5},
{"k":"e","c":"Soil","r":"2013","f":"c38","t":"c10","l":"Other links","w":2},
{"k":"e","c":"Soil","r":"2013","f":"c38","t":"c29","l":"Other links","w":1.5},
{"k":"e","c":"Soil","r":"2013","f":"c48","t":"c25","l":"Other links","w":1},
{"k":"e","c":"Soil","r":"2013","f":"c16","t":"c27","l":"Other links","w":1},
{"k":"e","c":"Soil","r":"2013","f":"c19","t":"c30","l":"Other links","w":1},
{"k":"e","c":"Soil","r":"2013","f":"c2","t":"c38","l":"Other links","w":1},
{"k":"e","c":"Soil","r":"2013","f":"c23","t":"c26","l":"Other links","w":1},
{"k":"e","c":"Control","r":"2017","f":"d19","t":"d24","l":"Heathland links","w":12},
{"k":"e","c":"Control","r":"2017","f":"d17","t":"d24","l":"Heathland links","w":4.5},
{"k":"e","c":"Control","r":"2017","f":"d19","t":"d34","l":"Heathland links","w":4},
{"k":"e","c":"Control","r":"2017","f":"d19","t":"d42","l":"Heathland links","w":5},
{"k":"e","c":"Control","r":"2017","f":"d19","t":"d33","l":"Heathland links","w":2},
{"k":"e","c":"Control","r":"2017","f":"d17","t":"d41","l":"Heathland links","w":3},
{"k":"e","c":"Control","r":"2017","f":"d22","t":"d24","l":"Heathland links","w":5},
{"k":"e","c":"Control","r":"2017","f":"d1","t":"d24","l":"Heathland links","w":2},
{"k":"e","c":"Control","r":"2017","f":"d3","t":"d41","l":"Heathland links","w":2},
{"k":"e","c":"Control","r":"2017","f":"d6","t":"d29","l":"Heathland links","w":4},
{"k":"e","c":"Control","r":"2017","f":"d7","t":"d32","l":"Heathland links","w":1.5},
{"k":"e","c":"Control","r":"2017","f":"d8","t":"d24","l":"Heathland links","w":2},
{"k":"e","c":"Control","r":"2017","f":"d43","t":"d41","l":"Heathland links","w":1},
{"k":"e","c":"Control","r":"2017","f":"d12","t":"d24","l":"Heathland links","w":1},
{"k":"e","c":"Control","r":"2017","f":"d3","t":"d38","l":"Heathland links","w":1},
{"k":"e","c":"Control","r":"2017","f":"d46","t":"d21","l":"Heathland links","w":0.8},
{"k":"e","c":"Control","r":"2017","f":"d12","t":"d21","l":"Heathland links","w":0.8},
{"k":"e","c":"Control","r":"2017","f":"d1","t":"d39","l":"Other links","w":10},
{"k":"e","c":"Control","r":"2017","f":"d2","t":"d37","l":"Other links","w":9},
{"k":"e","c":"Control","r":"2017","f":"d2","t":"d34","l":"Other links","w":8},
{"k":"e","c":"Control","r":"2017","f":"d1","t":"d30","l":"Other links","w":6},
{"k":"e","c":"Control","r":"2017","f":"d2","t":"d29","l":"Other links","w":5},
{"k":"e","c":"Control","r":"2017","f":"d13","t":"d40","l":"Other links","w":6},
{"k":"e","c":"Control","r":"2017","f":"d13","t":"d24","l":"Other links","w":5},
{"k":"e","c":"Control","r":"2017","f":"d18","t":"d29","l":"Other links","w":8},
{"k":"e","c":"Control","r":"2017","f":"d18","t":"d30","l":"Other links","w":6},
{"k":"e","c":"Control","r":"2017","f":"d45","t":"d38","l":"Other links","w":3},
{"k":"e","c":"Control","r":"2017","f":"d14","t":"d24","l":"Other links","w":2},
{"k":"e","c":"Control","r":"2017","f":"d15","t":"d24","l":"Other links","w":1.5},
{"k":"e","c":"Control","r":"2017","f":"d17","t":"d26","l":"Other links","w":1},
{"k":"e","c":"Control","r":"2017","f":"d10","t":"d31","l":"Other links","w":1},
{"k":"e","c":"Control","r":"2017","f":"d16","t":"d28","l":"Other links","w":1},
{"k":"e","c":"Hay","r":"2017","f":"e1","t":"e19","l":"Heathland links","w":9},
{"k":"e","c":"Hay","r":"2017","f":"e5","t":"e19","l":"Heathland links","w":9},
{"k":"e","c":"Hay","r":"2017","f":"e13","t":"e19","l":"Heathland links","w":10},
{"k":"e","c":"Hay","r":"2017","f":"e9","t":"e19","l":"Heathland links","w":7},
{"k":"e","c":"Hay","r":"2017","f":"e7","t":"e19","l":"Heathland links","w":5},
{"k":"e","c":"Hay","r":"2017","f":"e4","t":"e19","l":"Heathland links","w":5},
{"k":"e","c":"Hay","r":"2017","f":"e11","t":"e19","l":"Heathland links","w":4},
{"k":"e","c":"Hay","r":"2017","f":"e16","t":"e19","l":"Heathland links","w":5},
{"k":"e","c":"Hay","r":"2017","f":"e1","t":"e31","l":"Heathland links","w":4},
{"k":"e","c":"Hay","r":"2017","f":"e1","t":"e26","l":"Heathland links","w":4},
{"k":"e","c":"Hay","r":"2017","f":"e1","t":"e32","l":"Heathland links","w":3},
{"k":"e","c":"Hay","r":"2017","f":"e1","t":"e36","l":"Heathland links","w":1},
{"k":"e","c":"Hay","r":"2017","f":"e3","t":"e33","l":"Heathland links","w":4},
{"k":"e","c":"Hay","r":"2017","f":"e5","t":"e16","l":"Heathland links","w":4},
{"k":"e","c":"Hay","r":"2017","f":"e5","t":"e28","l":"Heathland links","w":3},
{"k":"e","c":"Hay","r":"2017","f":"e9","t":"e16","l":"Heathland links","w":4},
{"k":"e","c":"Hay","r":"2017","f":"e9","t":"e26","l":"Heathland links","w":3},
{"k":"e","c":"Hay","r":"2017","f":"e13","t":"e29","l":"Heathland links","w":4},
{"k":"e","c":"Hay","r":"2017","f":"e14","t":"e25","l":"Heathland links","w":3},
{"k":"e","c":"Hay","r":"2017","f":"e4","t":"e29","l":"Heathland links","w":1},
{"k":"e","c":"Hay","r":"2017","f":"e12","t":"e35","l":"Heathland links","w":2},
{"k":"e","c":"Hay","r":"2017","f":"e6","t":"e19","l":"Other links","w":5},
{"k":"e","c":"Hay","r":"2017","f":"e8","t":"e24","l":"Other links","w":5},
{"k":"e","c":"Hay","r":"2017","f":"e11","t":"e24","l":"Other links","w":7},
{"k":"e","c":"Hay","r":"2017","f":"e10","t":"e23","l":"Other links","w":6},
{"k":"e","c":"Hay","r":"2017","f":"e12","t":"e25","l":"Other links","w":5},
{"k":"e","c":"Hay","r":"2017","f":"e11","t":"e31","l":"Other links","w":6},
{"k":"e","c":"Hay","r":"2017","f":"e12","t":"e32","l":"Other links","w":5},
{"k":"e","c":"Hay","r":"2017","f":"e2","t":"e26","l":"Other links","w":3},
{"k":"e","c":"Hay","r":"2017","f":"e13","t":"e26","l":"Other links","w":4},
{"k":"e","c":"Hay","r":"2017","f":"e16","t":"e26","l":"Other links","w":6},
{"k":"e","c":"Hay","r":"2017","f":"e35","t":"e27","l":"Other links","w":5},
{"k":"e","c":"Hay","r":"2017","f":"e6","t":"e36","l":"Other links","w":3},
{"k":"e","c":"Soil","r":"2017","f":"f5","t":"f17","l":"Heathland links","w":12},
{"k":"e","c":"Soil","r":"2017","f":"f7","t":"f17","l":"Heathland links","w":12},
{"k":"e","c":"Soil","r":"2017","f":"f8","t":"f17","l":"Heathland links","w":9},
{"k":"e","c":"Soil","r":"2017","f":"f1","t":"f25","l":"Heathland links","w":14},
{"k":"e","c":"Soil","r":"2017","f":"f1","t":"f24","l":"Heathland links","w":8},
{"k":"e","c":"Soil","r":"2017","f":"f1","t":"f17","l":"Heathland links","w":8},
{"k":"e","c":"Soil","r":"2017","f":"f1","t":"f22","l":"Heathland links","w":5},
{"k":"e","c":"Soil","r":"2017","f":"f3","t":"f17","l":"Heathland links","w":9},
{"k":"e","c":"Soil","r":"2017","f":"f3","t":"f22","l":"Heathland links","w":6},
{"k":"e","c":"Soil","r":"2017","f":"f1","t":"f28","l":"Heathland links","w":5},
{"k":"e","c":"Soil","r":"2017","f":"f2","t":"f26","l":"Heathland links","w":5},
{"k":"e","c":"Soil","r":"2017","f":"f5","t":"f28","l":"Heathland links","w":4},
{"k":"e","c":"Soil","r":"2017","f":"f5","t":"f21","l":"Heathland links","w":4},
{"k":"e","c":"Soil","r":"2017","f":"f8","t":"f28","l":"Heathland links","w":4},
{"k":"e","c":"Soil","r":"2017","f":"f8","t":"f22","l":"Heathland links","w":4},
{"k":"e","c":"Soil","r":"2017","f":"f8","t":"f25","l":"Heathland links","w":4},
{"k":"e","c":"Soil","r":"2017","f":"f8","t":"f14","l":"Heathland links","w":3},
{"k":"e","c":"Soil","r":"2017","f":"f7","t":"f28","l":"Heathland links","w":4},
{"k":"e","c":"Soil","r":"2017","f":"f9","t":"f17","l":"Heathland links","w":3},
{"k":"e","c":"Soil","r":"2017","f":"f13","t":"f17","l":"Heathland links","w":6},
{"k":"e","c":"Soil","r":"2017","f":"f11","t":"f17","l":"Heathland links","w":4},
{"k":"e","c":"Soil","r":"2017","f":"f28","t":"f22","l":"Heathland links","w":1},
{"k":"e","c":"Soil","r":"2017","f":"f4","t":"f28","l":"Heathland links","w":1},
{"k":"e","c":"Soil","r":"2017","f":"f16","t":"f17","l":"Heathland links","w":3},
{"k":"e","c":"Soil","r":"2017","f":"f4","t":"f17","l":"Heathland links","w":3},
{"k":"e","c":"Soil","r":"2017","f":"f11","t":"f28","l":"Heathland links","w":3},
{"k":"e","c":"Soil","r":"2017","f":"f6","t":"f17","l":"Other links","w":5},
{"k":"e","c":"Soil","r":"2017","f":"f10","t":"f17","l":"Other links","w":7},
{"k":"e","c":"Soil","r":"2017","f":"f10","t":"f22","l":"Other links","w":4},
{"k":"e","c":"Soil","r":"2017","f":"f6","t":"f28","l":"Other links","w":3},
{"k":"e","c":"Soil","r":"2017","f":"f28","t":"f26","l":"Other links","w":3}
]},
"data":{"name":"all"},
"transform":[
{"lookup":"f","from":{"data":{"name":"all"},"key":"id","fields":["x","y"]},"as":["x1","y1"]},
{"lookup":"t","from":{"data":{"name":"all"},"key":"id","fields":["x","y"]},"as":["x2","y2"]}
],
"facet":{
"column":{"field":"c","type":"nominal","title":null,"sort":["Control","Hay","Soil"],"header":{"labelFontSize":52,"labelPadding":6}},
"row":{"field":"r","type":"nominal","title":null,"sort":["2013","2017"],"header":{"labelFontSize":52,"labelAngle":-90,"labelOrient":"left","labelPadding":11}}
},
"spacing":{"row":16,"column":20},
"spec":{
"width":480,"height":480,
"layer":[
{"transform":[{"filter":"datum.k==='ring'"}],
"mark":{"type":"point","shape":"circle","filled":false,"size":171200,"stroke":"black","strokeWidth":3.2,"strokeDash":[0.5,13.7],"strokeCap":"round","opacity":1},
"encoding":{"x":{"field":"x","type":"quantitative","scale":{"domain":[-1.16,1.16]},"axis":null},"y":{"field":"y","type":"quantitative","scale":{"domain":[-1.16,1.16]},"axis":null}}},
{"transform":[{"filter":"datum.k==='e'"}],
"mark":{"type":"rule"},
"encoding":{
"x":{"field":"x1","type":"quantitative","scale":{"domain":[-1.16,1.16]},"axis":null},
"y":{"field":"y1","type":"quantitative","scale":{"domain":[-1.16,1.16]},"axis":null},
"x2":{"field":"x2"},"y2":{"field":"y2"},
"stroke":{"field":"l","type":"nominal","scale":{"domain":["Heathland links","Other links"],"range":["#6C7B8B","#C6E2FF"]},
"legend":{"title":null,"orient":"none","legendX":118,"legendY":982,"direction":"horizontal","symbolType":"stroke","symbolSize":6724,"symbolStrokeWidth":9,"labelOffset":30,"columnPadding":12}},
"strokeWidth":{"field":"w","type":"quantitative","scale":{"domain":[0,10],"range":[0,11.5]},"legend":null},
"opacity":{"field":"w","type":"quantitative","scale":{"domain":[0.5,4],"range":[0.35,1],"clamp":true},"legend":null},
"order":{"field":"w","type":"quantitative"}}},
{"transform":[{"filter":"datum.k==='n' && datum.g!=='dot'"}],
"mark":{"type":"point","shape":"circle","filled":true,"stroke":"black","strokeWidth":1.3,"opacity":1},
"encoding":{
"x":{"field":"x","type":"quantitative","scale":{"domain":[-1.16,1.16]},"axis":null},
"y":{"field":"y","type":"quantitative","scale":{"domain":[-1.16,1.16]},"axis":null},
"fill":{"field":"g","type":"nominal","scale":{"domain":["Plants","Fungi"],"range":["#2E8B57","#A52A2A"]},
"legend":{"title":null,"orient":"none","legendX":1013,"legendY":1006,"direction":"horizontal","symbolType":"circle","symbolSize":200,"symbolStrokeWidth":0,"labelOffset":22,"columnPadding":16}},
"size":{"field":"d","type":"quantitative","scale":{"type":"pow","exponent":2,"domain":[0,40],"range":[0,1600]},"legend":null}}}
]},
"config":{
"view":{"stroke":null},
"font":"Liberation Sans",
"header":{"labelFont":"Liberation Sans","labelFontSize":52,"labelColor":"black"},
"legend":{"labelFont":"Liberation Sans","labelFontSize":42,"labelColor":"black","labelLimit":600}
}
}
